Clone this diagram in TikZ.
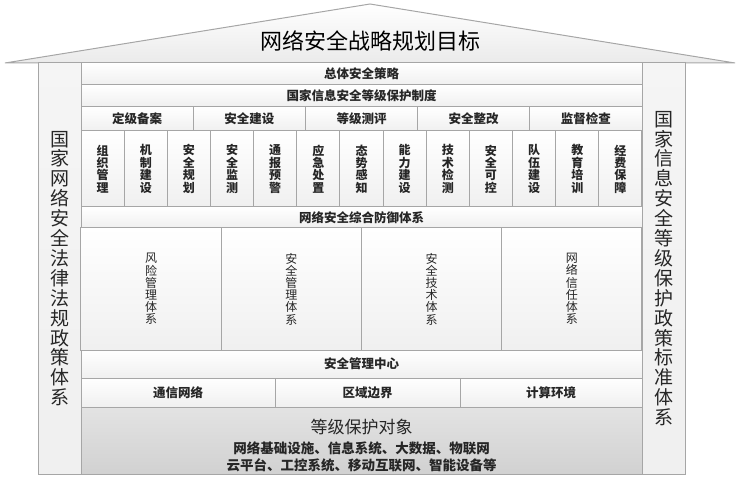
\documentclass[tikz,border=0pt]{standalone}
\usepackage{fontspec}
\setmainfont{Noto Sans CJK SC}
\usepackage{tikz}

\begin{document}
\begin{tikzpicture}[x=1pt, y=-1pt, line width=1pt,
    cell/.style = {draw=gray!70, rectangle, inner sep=0pt, top color=white, bottom color=gray!12,
        text=black!85, font=\bfseries\fontsize{12.5}{13}\selectfont},
    row/.style = {cell, minimum width=561pt},
    vtext/.style = {align=center, font=\bfseries\fontsize{12}{12.4}\selectfont},
    pillar/.style = {cell, top color=gray!8, bottom color=gray!12, minimum width=43pt,
        minimum height=411pt, align=center, font=\fontsize{19}{19.9}\selectfont}]
    \useasboundingbox (0,0) rectangle (740,484);

    % roof
    \draw[draw=gray!70, top color=white, bottom color=gray!16] (5,63) -- (370,4) -- (735,63) -- cycle;
    \node (goal) at (370,41) {\fontsize{22}{24}\selectfont 网络安全战略规划目标};

    \node[pillar] (law) at (59.5,268.5) {国\\家\\网\\络\\安\\全\\法\\律\\法\\规\\政\\策\\体\\系};
    \node[pillar] (std) at (663.5,268.5) {国\\家\\信\\息\\安\\全\\等\\级\\保\\护\\政\\策\\标\\准\\体\\系};

    \node[row, minimum height=22pt] (policy) at (361.5,74) {总体安全策略};
    \node[row, minimum height=22pt] (system) at (361.5,96) {国家信息安全等级保护制度};

    \foreach \lbl [count=\i from 0] in {定级备案, 安全建设, 等级测评, 安全整改, 监督检查}
        \node[cell, minimum width=112.2pt, minimum height=24pt] (s\i) at ({137.1+112.2*\i},119) {\lbl};

    \foreach \lbl [count=\i from 0] in {{组\\织\\管\\理}, {机\\制\\建\\设}, {安\\全\\规\\划}, {安\\全\\监\\测},
            {通\\报\\预\\警}, {应\\急\\处\\置}, {态\\势\\感\\知}, {能\\力\\建\\设}, {技\\术\\检\\测},
            {安\\全\\可\\控}, {队\\伍\\建\\设}, {教\\育\\培\\训}, {经\\费\\保\\障}}
        \node[cell, vtext, minimum width=43.15pt, minimum height=76pt] (m\i) at ({102.6+43.15*\i},169) {\lbl};

    \node[row, minimum height=21pt] (defense) at (361.5,217.5) {网络安全综合防御体系};

    \foreach \lbl [count=\i from 0] in {{风\\险\\管\\理\\体\\系}, {安\\全\\管\\理\\体\\系},
            {安\\全\\技\\术\\体\\系}, {网\\络\\信\\任\\体\\系}}
        \node[cell, vtext, font=\fontsize{12}{12.2}\selectfont, minimum width=140.25pt, minimum height=122pt]
            (f\i) at ({151.1+140.25*\i},289) {\lbl};

    \node[row, minimum height=28pt] (center) at (361.5,364) {安全管理中心};

    \node[cell, minimum width=194pt, minimum height=29pt] (net) at (178,392.5) {通信网络};
    \node[cell, minimum width=185pt, minimum height=29pt] (border) at (367.5,392.5) {区域边界};
    \node[cell, minimum width=182pt, minimum height=29pt] (env) at (551,392.5) {计算环境};

    \node[row, top color=gray!22, bottom color=gray!36, minimum height=67pt] (target) at (361.5,440.5) {};
    \node[align=center, text=black!85, font=\bfseries\fontsize{13.5}{17}\selectfont] (objects) at (361.5,446)
        {{\mdseries\fontsize{17}{20}\selectfont 等级保护对象}\\[3pt]
         网络基础设施、信息系统、大数据、物联网\\
         云平台、工控系统、移动互联网、智能设备等};

\end{tikzpicture}
\end{document}
